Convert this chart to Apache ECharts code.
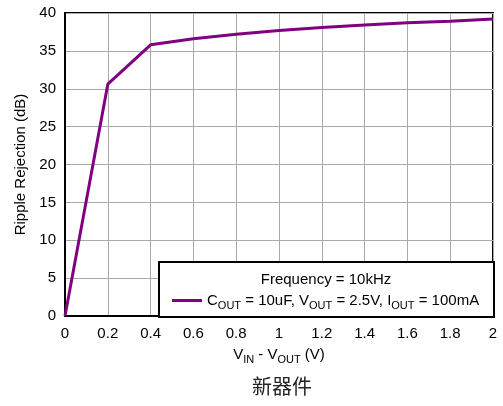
<!DOCTYPE html>
<html><head><meta charset="utf-8">
<script src="https://cdn.jsdelivr.net/npm/echarts@6/dist/echarts.min.js"></script>
<style>html,body{margin:0;padding:0;background:#fff}#c{width:503px;height:406px}</style>
</head><body><div id="c"></div>
<script>
var xValues = [0, 0.2, 0.4, 0.6, 0.8, 1.0, 1.2, 1.4, 1.6, 1.8, 2.0];
var rippleValues = [0, 30.6, 35.8, 36.6, 37.2, 37.7, 38.1, 38.4, 38.7, 38.9, 39.2];
var xTicks = [0, 0.2, 0.4, 0.6, 0.8, 1, 1.2, 1.4, 1.6, 1.8, 2];
var yTicks = [0, 5, 10, 15, 20, 25, 30, 35, 40];

var chart = echarts.init(document.getElementById('c'));
var F = 'Liberation Sans, Arial, sans-serif';
var sub = {fontSize: 11, fontFamily: F, color: '#000', verticalAlign: 'bottom', padding: [0,0,-3,0]};
chart.setOption({
  animation: false,
  textStyle: {fontFamily: F},
  grid: {left: 65, right: 10, top: 13, bottom: 90, show: true, borderColor: '#000', borderWidth: 2, containLabel: false},
  xAxis: {
    type: 'value', min: 0, max: 2, interval: 0.2,
    axisLine: {lineStyle: {color: '#000', width: 2}},
    axisTick: {show: false},
    axisLabel: {fontSize: 15, color: '#000', fontFamily: F, margin: 10, formatter: function(v){ return String(Math.round(v*10)/10); }},
    splitLine: {show: true, lineStyle: {color: '#aaa', width: 1}},
    name: '{n|V}{s|IN}{n| - V}{s|OUT}{n| (V)}', nameLocation: 'middle', nameGap: 31,
    nameTextStyle: {rich: {n: {fontSize: 15, fontFamily: F, color: '#000'}, s: sub}}
  },
  yAxis: {
    type: 'value', min: 0, max: 40, interval: 5,
    axisLine: {lineStyle: {color: '#000', width: 2}},
    axisTick: {show: false},
    axisLabel: {fontSize: 15, color: '#000', fontFamily: F, margin: 9},
    splitLine: {show: true, lineStyle: {color: '#aaa', width: 1}},
    name: 'Ripple Rejection (dB)', nameLocation: 'middle', nameGap: 35,
    nameTextStyle: {fontSize: 15, color: '#000', fontFamily: F}
  },
  graphic: [
    {type: 'rect', left: 158, top: 261, shape: {width: 335, height: 55}, style: {fill: '#fff', stroke: '#000', lineWidth: 2}, z: 10},
    {type: 'text', x: 326, y: 280, style: {text: 'Frequency = 10kHz', font: '15px "Liberation Sans"', fill: '#000', align: 'center', verticalAlign: 'middle'}, z: 11},
    {type: 'text', x: 282, y: 386, style: {text: '新器件', font: '20px "Noto Sans CJK SC"', fill: '#222', align: 'center', verticalAlign: 'middle'}, z: 11}
  ],
  legend: {
    left: 167, top: 288, z: 20, itemWidth: 30, itemHeight: 3, itemGap: 8,
    icon: 'rect',
    data: [{name: 'c'}],
    formatter: function(){ return '{n|C}{s|OUT}{n| = 10uF, V}{s|OUT}{n| = 2.5V, I}{s|OUT}{n| = 100mA}'; },
    textStyle: {rich: {n: {fontSize: 15, fontFamily: F, color: '#000'}, s: sub}}
  },
  series: [{
    name: 'c', type: 'line', showSymbol: false, symbol: 'none',
    data: xValues.map(function(x, i){ return [x, rippleValues[i]]; }),
    lineStyle: {color: '#800080', width: 3}, itemStyle: {color: '#800080'}
  }]
});
</script></body></html>
